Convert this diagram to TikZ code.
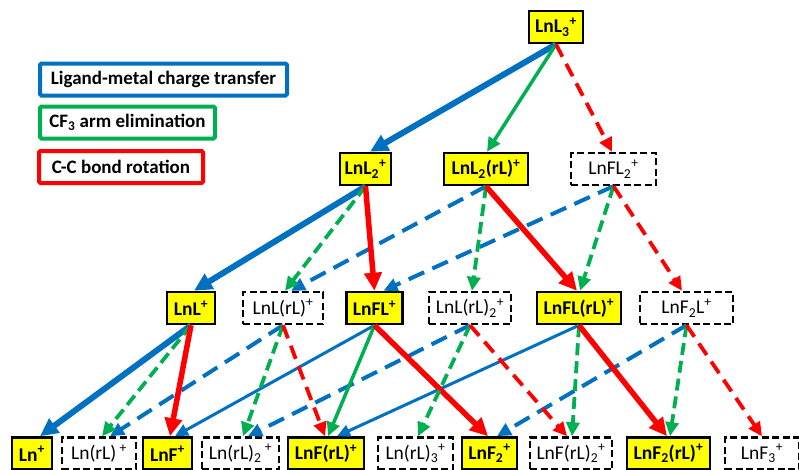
\documentclass[tikz,border=0pt]{standalone}
\usepackage{fontspec}
\setmainfont{Carlito}
\usetikzlibrary{arrows.meta}

\definecolor{lmct}{HTML}{0070C0}
\definecolor{armel}{HTML}{00B050}
\definecolor{ccrot}{HTML}{FF0000}
\definecolor{seen}{HTML}{FFFF00}

% connector from the bottom of one species to the top of another
\newcommand\flowto[4]{\draw[#1] (#2.south) -- ([xshift=#4pt]#3.north);}

\begin{document}
\begin{tikzpicture}[x=1pt,y=-1pt,
  lbl/.style={font=\fontsize{19.5}{22}\selectfont},
  found/.style={lbl, draw=black, line width=2.6pt, fill=seen, minimum height=32pt,
    inner sep=0pt, font=\fontsize{19.5}{22}\selectfont\bfseries},
  notfound/.style={lbl, draw=black, line width=2.4pt, dash pattern=on 7pt off 3.5pt,
    minimum height=32pt, inner sep=0pt},
  keybox/.style={line width=4pt, rounded corners=1.5pt, minimum height=32pt,
    inner xsep=9pt, inner ysep=0pt, anchor=west, font=\fontsize{19}{22}\selectfont\bfseries},
  bigtip/.style={-{Triangle[length=18pt,width=17pt]}},
  midtip/.style={-{Triangle[length=14pt,width=13pt]}},
  smalltip/.style={-{Triangle[length=13pt,width=12pt]}},
  blueA/.style={bigtip, lmct, line width=6pt},
  blueB/.style={smalltip, lmct, line width=3pt},
  blueD/.style={midtip, lmct, line width=4pt, dash pattern=on 17pt off 9pt},
  greenA/.style={midtip, armel, line width=3.5pt},
  greenD/.style={midtip, armel, line width=3.8pt, dash pattern=on 12pt off 6pt},
  redA/.style={bigtip, ccrot, line width=5.5pt},
  redD/.style={midtip, ccrot, line width=3.8pt, dash pattern=on 14pt off 8pt},
]
\useasboundingbox (0,0) rectangle (799,469);

% legend
\node[keybox, draw=lmct, minimum width=247pt] (k1) at (38,79.5) {Ligand-metal charge transfer};
\node[keybox, draw=armel, minimum width=175pt] (k2) at (38,122.5) {CF\textsubscript{3} arm elimination};
\node[keybox, draw=ccrot, minimum width=164pt] (k3) at (37,167) {C-C bond rotation};

% species, top row
\node[found, minimum width=54pt] (a1) at (556,27) {LnL\textsubscript{3}\textsuperscript{+}};

% second row
\node[found, minimum width=51pt] (b1) at (365.5,169) {LnL\textsubscript{2}\textsuperscript{+}};
\node[found, minimum width=84pt] (b2) at (486,169) {LnL\textsubscript{2}(rL)\textsuperscript{+}};
\node[notfound, minimum width=85pt] (b3) at (613.5,169) {LnFL\textsubscript{2}\textsuperscript{+}};

% third row
\node[found, minimum width=48pt] (c1) at (191,308) {LnL\textsuperscript{+}};
\node[notfound, minimum width=80pt] (c2) at (283,308) {LnL(rL)\textsuperscript{+}};
\node[found, minimum width=56pt] (c3) at (374.5,308) {LnFL\textsuperscript{+}};
\node[notfound, minimum width=82pt] (c4) at (470,308) {LnL(rL)\textsubscript{2}\textsuperscript{+}};
\node[found, minimum width=84pt] (c5) at (579,308) {LnFL(rL)\textsuperscript{+}};
\node[notfound, minimum width=93pt] (c6) at (686.5,308) {LnF\textsubscript{2}L\textsuperscript{+}};

% bottom row
\node[found, minimum width=40pt] (d1) at (32,453.5) {Ln\textsuperscript{+}};
\node[notfound, minimum width=74pt] (d2) at (99,453.5) {Ln(rL)\,\textsuperscript{+}};
\node[found, minimum width=49pt] (d3) at (167.5,453.5) {LnF\textsuperscript{+}};
\node[notfound, minimum width=77pt] (d4) at (240.5,453.5) {Ln(rL)\textsubscript{2}\,\textsuperscript{+}};
\node[found, minimum width=76pt] (d5) at (326,453.5) {LnF(rL)\textsuperscript{+}};
\node[notfound, minimum width=75pt] (d6) at (415.5,453.5) {Ln(rL)\textsubscript{3}\textsuperscript{+}};
\node[found, minimum width=55pt] (d7) at (489.5,453.5) {LnF\textsubscript{2}\textsuperscript{+}};
\node[notfound, minimum width=82pt] (d8) at (571,453.5) {LnF(rL)\textsubscript{2}\textsuperscript{+}};
\node[found, minimum width=83pt] (d9) at (668.5,453.5) {LnF\textsubscript{2}(rL)\textsuperscript{+}};
\node[notfound, minimum width=74pt] (d10) at (762,453.5) {LnF\textsubscript{3}\textsuperscript{+}};

% first generation
\flowto{blueA}{a1}{b1}{4.5}
\flowto{greenA}{a1}{b2}{1}
\flowto{redD}{a1}{b3}{-1.5}

% second generation
\flowto{blueD}{b2}{c2}{8}
\flowto{blueD}{b3}{c3}{9}
\flowto{blueA}{b1}{c1}{3}
\flowto{greenD}{b1}{c2}{2}
\flowto{redA}{b1}{c3}{0}
\flowto{greenD}{b2}{c4}{2}
\flowto{redA}{b2}{c5}{-2}
\flowto{greenD}{b3}{c5}{1}
\flowto{redD}{b3}{c6}{-4.5}

% third generation
\flowto{blueD}{c2}{d2}{11}
\flowto{blueD}{c4}{d4}{7.5}
\flowto{blueD}{c6}{d7}{7.5}
\flowto{blueB}{c3}{d3}{7.5}
\flowto{blueB}{c5}{d5}{11}
\flowto{blueA}{c1}{d1}{8}
\flowto{greenD}{c1}{d2}{3}
\flowto{redA}{c1}{d3}{2.5}
\flowto{greenD}{c2}{d4}{2.5}
\flowto{redD}{c2}{d5}{-1}
\flowto{greenA}{c3}{d5}{2}
\flowto{redA}{c3}{d7}{-1.5}
\flowto{greenD}{c4}{d6}{2.5}
\flowto{redD}{c4}{d8}{-4}
\flowto{greenD}{c5}{d8}{1}
\flowto{redA}{c5}{d9}{-1.5}
\flowto{greenD}{c6}{d9}{1.5}
\flowto{redD}{c6}{d10}{0}
\end{tikzpicture}
\end{document}
